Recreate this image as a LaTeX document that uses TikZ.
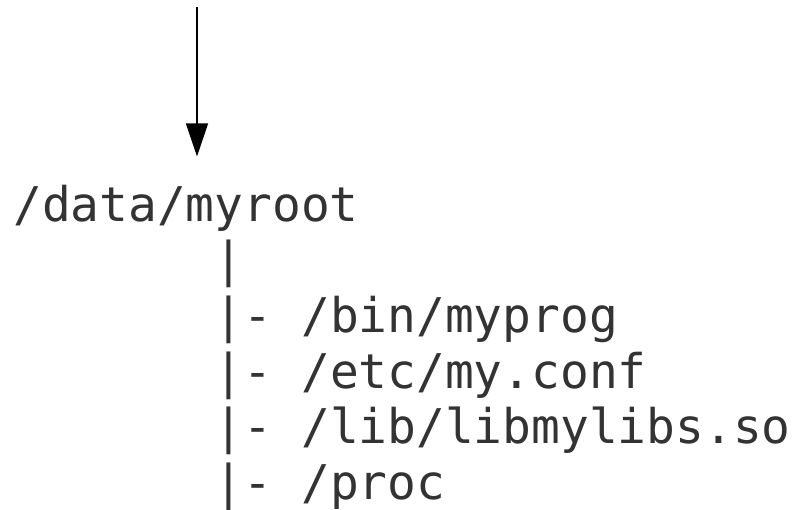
\documentclass[tikz,border=0pt]{standalone}
\usepackage{fontspec}
\setmonofont{DejaVu Sans Mono}
\usetikzlibrary{arrows.meta}
\definecolor{listgray}{RGB}{51,51,51}

\tikzset{
  treeline/.style={anchor=base west, inner sep=0pt, text=listgray,
    font=\ttfamily\fontsize{47.84}{56}\selectfont},
  feedarrow/.style={line width=1.3pt, -{Triangle[length=33pt,width=22pt]}}
}

\begin{document}
\begin{tikzpicture}[x=1pt,y=-1pt]
  \useasboundingbox (0,0) rectangle (795,509);
  \node[treeline] (root) at (13,221) {/data/myroot};
  \node[treeline] (stem) at (214.6,276.4) {|};
  \foreach \name/\y/\txt in {bin/332.2/{/bin/myprog}, etc/388/{/etc/my.conf},
      lib/443.8/{/lib/libmylibs.so}, proc/499.6/{/proc}} {
    \node[treeline] (\name) at (214.6,\y) {|- \txt};
  }
  \coordinate (feed) at (197,7);
  \draw[feedarrow, shorten >=28pt] (feed) -- (feed |- root.north);
\end{tikzpicture}
\end{document}
